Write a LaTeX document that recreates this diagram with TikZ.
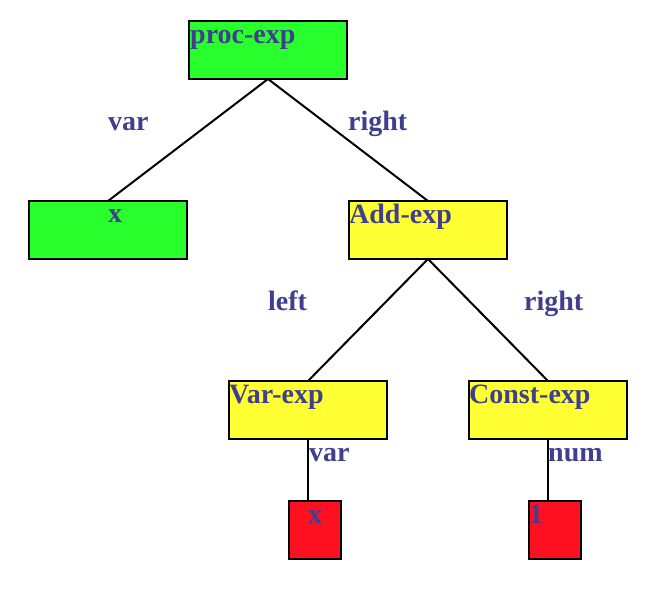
\documentclass[tikz,border=0pt]{standalone}
\usepackage{fontspec}
\setmainfont{Liberation Serif}
\usepackage{tikz}
\usetikzlibrary{calc}
\usetikzlibrary{positioning}

\definecolor{boxGreen}{RGB}{42,255,46}
\definecolor{boxYellow}{RGB}{255,255,51}
\definecolor{boxRed}{RGB}{255,16,32}
\definecolor{labelBlue}{RGB}{64,62,142}

\tikzset{
	treebox/.style = {draw, line width = 2pt, inner sep = 0pt, outer sep = 0pt, minimum width = 158pt, minimum height = 58pt},
	leafbox/.style = {draw, line width = 2pt, inner sep = 0pt, outer sep = 0pt, minimum width = 52pt, minimum height = 58pt, fill = boxRed},
	boxtext/.style = {inner sep = 0pt, anchor = base west, text = labelBlue, font = \fontsize{28}{30}\selectfont\bfseries},
	edgetext/.style = {inner sep = 0pt, anchor = base west, text = labelBlue, font = \fontsize{28}{30}\selectfont\bfseries},
	link/.style = {line width = 2pt}
}

\begin{document}
\begin{tikzpicture}[x = 1pt, y = -1pt]

	\useasboundingbox (0,0) rectangle (670,612);

	% top of the tree
	\node [treebox, fill = boxGreen, anchor = north west] (procExp) at (189,21) {};
	\node [boxtext] (procExpText) at ($(procExp.north west) + (1,23)$) {proc-exp};

	% second level
	\node [treebox, fill = boxGreen, anchor = north west] (varBox) at (29,201) {};
	\node [boxtext] (varBoxText) at ($(varBox.north west) + (79,22)$) {x};
	\node [treebox, fill = boxYellow, anchor = north west] (addExp) at (349,201) {};
	\node [boxtext] (addExpText) at ($(addExp.north west) + (0,23)$) {Add-exp};

	% third level
	\node [treebox, fill = boxYellow, anchor = north west] (varExp) at (229,381) {};
	\node [boxtext] (varExpText) at ($(varExp.north west) + (0,23)$) {Var-exp};
	\node [treebox, fill = boxYellow, anchor = north west] (constExp) at (469,381) {};
	\node [boxtext] (constExpText) at ($(constExp.north west) + (0,23)$) {Const-exp};

	% leaves
	\fill [boxRed] (291,502) rectangle (342,558);
	\node [leafbox, anchor = north west] (varLeaf) at (289,501) {};
	\node [boxtext] (varLeafText) at ($(varLeaf.north west) + (19,22)$) {x};
	\fill [boxRed] (531,502) rectangle (582,558);
	\node [leafbox, anchor = north west] (numLeaf) at (529,501) {};
	\node [boxtext] (numLeafText) at ($(numLeaf.north west) + (0,22)$) {1};

	% connectors
	\draw [link] (procExp.south) -- (varBox.north);
	\draw [link] (procExp.south) -- (addExp.north);
	\draw [link] (addExp.south) -- (varExp.north);
	\draw [link] (addExp.south) -- (constExp.north);
	\draw [link] (varExp.south) -- (varExp.south |- varLeaf.north);
	\draw [link] (constExp.south) -- (constExp.south |- numLeaf.north);

	% edge labels
	\node [edgetext] (varLabel) at (108,131) {var};
	\node [edgetext] (rightLabel) at (348,131) {right};
	\node [edgetext] (leftLabel) at (268,311) {left};
	\node [edgetext] (rightLabelTwo) at (524,311) {right};
	\node [edgetext] (varLabelTwo) at (309,461) {var};
	\node [edgetext] (numLabel) at (548,461) {num};

\end{tikzpicture}
\end{document}
